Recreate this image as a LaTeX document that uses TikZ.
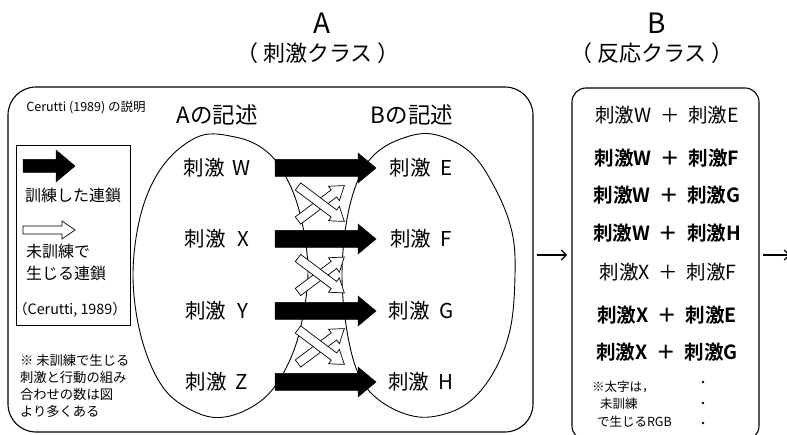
\documentclass[tikz,border=0pt]{standalone}
\usepackage{fontspec}
\setmainfont{Noto Sans CJK JP}[BoldFont={Noto Sans CJK JP Bold}]
\usetikzlibrary{arrows.meta}
\newcommand{\fs}[1]{\fontsize{#1}{#1}\selectfont}
\newcommand{\plussep}{\hspace{0.45em}＋\hspace{0.45em}}
\newcommand{\blackarrow}[1]{%
  \draw[barrow] (275,{#1-8.5}) -- (358,{#1-8.5}) -- (358,{#1-15}) -- (376,#1) -- (358,{#1+15}) -- (358,{#1+8.5}) -- (275,{#1+8.5}) -- cycle;}
\newcommand{\whitearrow}[4]{% x y angle length
  \begin{scope}[shift={(#1,#2)},rotate=#3]
  \draw[warrow] (0,-4.5) -- ({#4-13},-4.5) -- ({#4-13},-9) -- (#4,0) -- ({#4-13},9) -- ({#4-13},4.5) -- (0,4.5) -- cycle;
  \end{scope}}
\newcommand{\crosspair}[1]{%
  \whitearrow{298}{#1+17}{37}{58}
  \whitearrow{298}{#1-17}{-37}{58}}
\begin{document}
\begin{tikzpicture}[x=1pt,y=-1pt,
  every node/.style={inner sep=0pt,outer sep=0pt},
  frame/.style={draw,line width=1.1pt},
  shapeline/.style={draw,line width=0.9pt},
  barrow/.style={fill=black,draw=black,line width=0.5pt},
  warrow/.style={fill=white,draw=black,line width=0.7pt},
  title/.style={font=\fs{28}},
  subtitle/.style={font=\fs{22}},
  head/.style={font=\fs{22.5}},
  stim/.style={font=\fs{20.5}},
  legend/.style={font=\fs{16},anchor=west},
  note/.style={font=\fs{13.3},anchor=west},
  entry/.style={font=\fs{19.5}},
  bentry/.style={font=\fs{19.5}\bfseries},
  rnote/.style={font=\fs{12.5},anchor=west},
  link/.style={line width=1.2pt,-{Straight Barb[length=5pt,width=10pt]}}]
\useasboundingbox (0,0) rectangle (787,435);
\clip (0,0) rectangle (787,435);

% titles
\node[title] (tA) at (322,23) {A};
\node[subtitle] (sA) at (318,53) {（\hspace{0.2em}刺激クラス\hspace{0.2em}）};
\node[title] (tB) at (657,23) {B};
\node[subtitle] (sB) at (652,53) {（\hspace{0.2em}反応クラス\hspace{0.2em}）};

% frames
\draw[frame,rounded corners=28pt] (8,87) rectangle (533,432);
\draw[frame,rounded corners=14pt] (572,88) rectangle (759,440);

% left panel texts
\node[font=\fs{12.5}] (expl) at (86,107) {Cerutti (1989) の説明};
\node[head] (hA) at (217,115) {Aの記述};
\node[head] (hB) at (412,115) {Bの記述};

% legend
\draw[line width=0.9pt] (16,145) rectangle (130,325);
\draw[barrow] (23,159.5) -- (56,159.5) -- (56,150) -- (75,166) -- (56,182) -- (56,172.5) -- (23,172.5) -- cycle;
\node[legend] (l1) at (25,195) {訓練した連鎖};
\draw[warrow] (23,226) -- (62,226) -- (62,221) -- (75,230) -- (62,239) -- (62,234) -- (23,234) -- cycle;
\node[legend] (l2) at (26,251) {未訓練で};
\node[legend] (l3) at (26,273) {生じる連鎖};
\node[font=\fs{14.3}] (l4) at (70,310) {（Cerutti, 1989）};

\node[note] (n1) at (20,360) {※ 未訓練で生じる};
\node[note] (n2) at (20,377) {刺激と行動の組み};
\node[note] (n3) at (20,394) {合わせの数は図};
\node[note] (n4) at (20,411) {より多くある};

% shapes (A and B sets)
\draw[shapeline] plot[smooth cycle,tension=0.6] coordinates {
  (133,275) (142,210) (165,163) (200,136) (235,137) (262,148) (282,170) (299,210) (308,270) (300,330) (284,372) (262,400) (230,416) (200,414) (165,390) (142,340)};
\draw[shapeline] plot[smooth cycle,tension=0.6] coordinates {
  (342,275) (346,225) (356,185) (372,157) (398,140) (432,134) (470,152) (496,190) (512,232) (515,275) (510,330) (492,375) (465,405) (430,417) (400,412) (372,394) (356,368) (346,325)};

% stimulus labels
\node[stim] (sW) at (217,168) {刺激\hspace{0.35em}W};
\node[stim] (sX) at (217,239) {刺激\hspace{0.55em}X};
\node[stim] (sY) at (217,311) {刺激\hspace{0.55em}Y};
\node[stim] (sZ) at (217,382) {刺激\hspace{0.45em}Z};
\node[stim] (sE) at (421,168) {刺激\hspace{0.45em}E};
\node[stim] (sF) at (421,239) {刺激\hspace{0.45em}F};
\node[stim] (sG) at (421,311) {刺激\hspace{0.45em}G};
\node[stim] (sH) at (421,382) {刺激\hspace{0.45em}H};

% untrained (white) arrows
\crosspair{203.5}
\crosspair{275}
\crosspair{346.5}

% trained (black) arrows
\blackarrow{168}
\blackarrow{239}
\blackarrow{311}
\blackarrow{382}

% B class entries
\node[entry] (e1) at (667,115) {刺激W\plussep 刺激E};
\node[bentry] (e2) at (667,158) {刺激W\plussep 刺激F};
\node[bentry] (e3) at (667,195) {刺激W\plussep 刺激G};
\node[bentry] (e4) at (667,233) {刺激W\plussep 刺激H};
\node[entry] (e5) at (668,272) {刺激X\plussep 刺激F};
\node[bentry] (e6) at (667,315) {刺激X\plussep 刺激E};
\node[bentry] (e7) at (667,352) {刺激X\plussep 刺激G};
\node[rnote] (r1) at (592,387) {※太字は，};
\node[rnote] (r2) at (600,404) {未訓練};
\node[rnote] (r3) at (597,422) {で生じるRGB};
\fill (703,382) circle (1.3pt);
\fill (703,403) circle (1.3pt);
\fill (703,423) circle (1.3pt);

% connectors between panels
\coordinate (c1) at (537,255);
\coordinate (c2) at (567,255);
\coordinate (c3) at (763,255);
\coordinate (c4) at (790,255);
\draw[link] (c1) -- (c2);
\draw[link] (c3) -- (c4);
\end{tikzpicture}
\end{document}
